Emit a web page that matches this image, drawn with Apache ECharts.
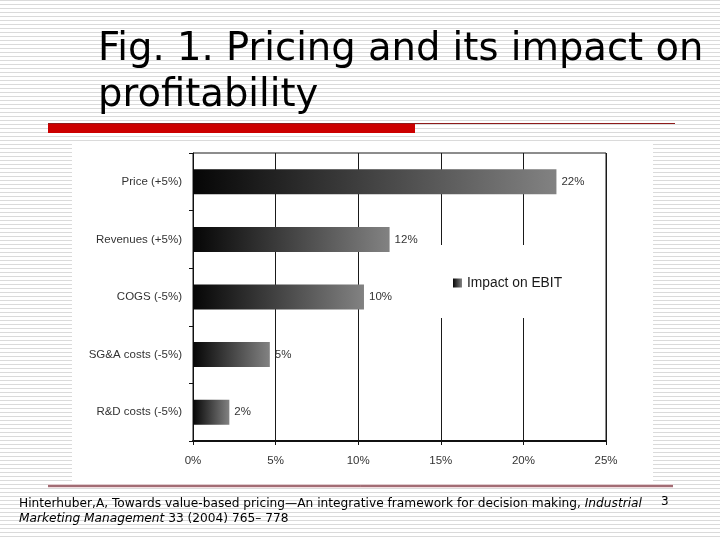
<!DOCTYPE html>
<html><head><meta charset="utf-8">
<script src="https://cdn.jsdelivr.net/npm/echarts/dist/echarts.min.js"></script>
<style>
html,body{margin:0;padding:0;}
body{background:repeating-linear-gradient(to bottom,#dadada 0px,#dadada 1px,#ffffff 1px,#ffffff 4px);}
#chart{width:720px;height:540px;}
</style></head><body><div id="chart"></div>
<script>
const categories = ['Price (+5%)', 'Revenues (+5%)', 'COGS (-5%)', 'SG&A costs (-5%)', 'R&D costs (-5%)'];
const impactOnEbit = [22, 11.9, 10.35, 4.65, 2.2];
const seriesName = 'Impact on EBIT';
const axisMin = 0, axisMax = 25, axisStep = 5;
const slideTitle = 'Fig. 1. Pricing and its impact on\nprofitability';
const citeLine1 = 'Hinterhuber,A, Towards value-based pricing\u2014An integrative framework for decision making, ';
const citeJournal1 = 'Industrial';
const citeJournal2 = 'Marketing Management';
const citeRest = ' 33 (2004) 765\u2013 778';
const pageNumber = '3';

const chart = echarts.init(document.getElementById('chart'));
const barGradient = new echarts.graphic.LinearGradient(0, 0, 1, 0, [
  { offset: 0, color: '#060606' },
  { offset: 1, color: '#828282' }
]);
const chartFont = 'Liberation Sans, Arial, sans-serif';

chart.setOption({
  animation: false,
  title: [
    {
      text: slideTitle, left: 98, top: 27, padding: 0,
      textStyle: { fontFamily: 'DejaVu Sans', fontSize: 38.5, fontWeight: 'normal', color: '#000', lineHeight: 46 }
    },
    {
      text: '{n|' + citeLine1 + '}{i|' + citeJournal1 + '}\n{i|' + citeJournal2 + '}{n|' + citeRest + '}',
      left: 19, top: 496, padding: 0,
      textStyle: {
        fontFamily: 'DejaVu Sans', fontSize: 12.2, color: '#000', fontWeight: 'normal', lineHeight: 15,
        rich: {
          n: { fontFamily: 'DejaVu Sans', fontSize: 12.2, color: '#000', lineHeight: 15 },
          i: { fontFamily: 'DejaVu Sans', fontSize: 12.2, color: '#000', fontStyle: 'italic', lineHeight: 15 }
        }
      }
    },
    {
      text: pageNumber, left: 661, top: 496, padding: 0,
      textStyle: { fontFamily: 'DejaVu Sans', fontSize: 12, fontWeight: 'normal', color: '#000' }
    }
  ],
  graphic: [
    { type: 'rect', z: -10, shape: { x: 72, y: 142, width: 581, height: 339 }, style: { fill: '#ffffff' } },
    { type: 'rect', z: -5, shape: { x: 48, y: 123, width: 367, height: 10 }, style: { fill: '#cc0000' } },
    { type: 'line', z: -5, shape: { x1: 48, y1: 123.5, x2: 675, y2: 123.5 }, style: { stroke: '#8e1b1b', lineWidth: 1 } },
    { type: 'line', z: -6, shape: { x1: 48, y1: 486, x2: 673, y2: 486 }, style: { stroke: '#e6bcc2', lineWidth: 3 } },
    { type: 'line', z: -5, shape: { x1: 48, y1: 486, x2: 673, y2: 486 }, style: { stroke: '#5e1c26', lineWidth: 1 } }
  ],
  grid: {
    left: 193, right: 114, top: 153, bottom: 99,
    show: true, borderColor: '#1a1a1a', borderWidth: 1, backgroundColor: 'transparent'
  },
  legend: {
    data: [seriesName], left: 438, top: 245,
    padding: [31, 38, 28, 15],
    backgroundColor: '#ffffff',
    icon: 'rect', itemWidth: 9, itemHeight: 9,
    textStyle: { fontFamily: chartFont, fontSize: 13.8, color: '#1a1a1a' }
  },
  xAxis: {
    type: 'value', min: axisMin, max: axisMax, interval: axisStep,
    axisLine: { show: true, lineStyle: { color: '#111', width: 2 } },
    axisTick: { show: true, length: 4, lineStyle: { color: '#111' } },
    axisLabel: { formatter: '{value}%', margin: 14, fontFamily: chartFont, fontSize: 11.5, color: '#333' },
    splitLine: { show: true, lineStyle: { color: '#1a1a1a', width: 1 } }
  },
  yAxis: {
    type: 'category', data: categories, inverse: true,
    axisLine: { show: true, lineStyle: { color: '#111', width: 1 } },
    axisTick: { show: true, length: 4, lineStyle: { color: '#111' } },
    axisLabel: { margin: 11, fontFamily: chartFont, fontSize: 11.5, color: '#333' }
  },
  series: [{
    name: seriesName, type: 'bar', data: impactOnEbit, barWidth: 25,
    itemStyle: { color: barGradient },
    label: {
      show: true, position: 'right', distance: 5,
      fontFamily: chartFont, fontSize: 11.5, color: '#333',
      formatter: p => Math.round(p.value) + '%'
    }
  }]
});
</script></body></html>
